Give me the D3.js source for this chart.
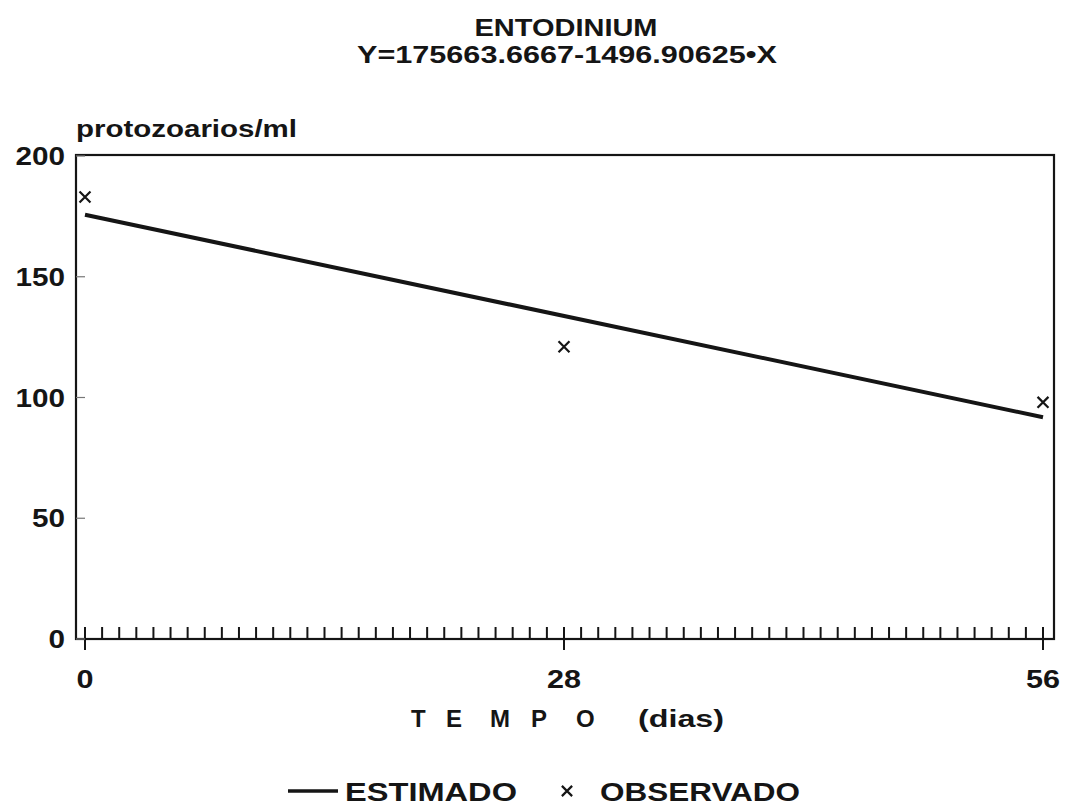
<!DOCTYPE html>
<html>
<head>
<meta charset="utf-8">
<script src="https://cdn.jsdelivr.net/npm/d3@7"></script>
<style>
  html, body { margin: 0; padding: 0; background: #fff; }
  svg text { font-family: "Liberation Sans", Arial, sans-serif; font-weight: bold; fill: #151515; }
</style>
</head>
<body>
<div id="chart"></div>
<script>
// data
const title = 'ENTODINIUM';
const equation = 'Y=175663.6667-1496.90625\u2022X';
const xTicks = [0, 28, 56];
const yTicks = [0, 50, 100, 150, 200];
const minorTicks = d3.range(0, 57);          // one tick per day
const estimadoX = [0, 56];
const estimadoY = [175.66, 91.84];
const observadoX = [0, 28, 56];
const observadoY = [183, 121, 98];

const width = 1068, height = 808;
const margins = { top: 155, right: 14, bottom: 169, left: 76 };
const ink = '#151515';

const svg = d3.select('#chart').append('svg')
  .attr('width', width)
  .attr('height', height);

const plotW = width - margins.left - margins.right;
const plotH = height - margins.top - margins.bottom;

const x = d3.scaleLinear().domain([0, 56]).range([9, plotW - 11]);
const y = d3.scaleLinear().domain([0, 200]).range([plotH, 1]);

// the scanned lettering is much wider than Liberation, so stretch it
function label(sel, str, px, py, size, len, anchor) {
  return sel.append('text')
    .attr('x', px).attr('y', py)
    .attr('font-size', size)
    .attr('text-anchor', anchor || 'start')
    .attr('textLength', len)
    .attr('lengthAdjust', 'spacingAndGlyphs')
    .text(str);
}

const g = svg.append('g')
  .attr('transform', `translate(${margins.left},${margins.top})`);

// frame
g.append('rect')
  .attr('width', plotW)
  .attr('height', plotH)
  .attr('fill', 'none')
  .attr('stroke', ink)
  .attr('stroke-width', 2.2);

// daily ticks standing on the base line
g.append('g')
  .selectAll('line')
  .data(minorTicks)
  .enter()
  .append('line')
  .attr('x1', d => x(d))
  .attr('x2', d => x(d))
  .attr('y1', plotH)
  .attr('y2', plotH - 12)
  .attr('stroke', ink)
  .attr('stroke-width', 2);

// x axis labels and the little outward marks
const xAxis = g.append('g').attr('transform', `translate(0,${plotH})`);
xAxis.selectAll('line')
  .data(xTicks)
  .enter()
  .append('line')
  .attr('x1', d => x(d))
  .attr('x2', d => x(d))
  .attr('y1', 0)
  .attr('y2', 11)
  .attr('stroke', ink)
  .attr('stroke-width', 2);
xAxis.selectAll('text')
  .data(xTicks)
  .enter()
  .append('text')
  .attr('x', d => x(d))
  .attr('y', 49)
  .attr('text-anchor', 'middle')
  .attr('font-size', 25)
  .attr('textLength', d => String(d).length * 17)
  .attr('lengthAdjust', 'spacingAndGlyphs')
  .text(d => d);

// y axis: faint inward ticks and labels
const yAxis = g.append('g');
yAxis.selectAll('line')
  .data(yTicks)
  .enter()
  .append('line')
  .attr('x1', 0)
  .attr('x2', 9)
  .attr('y1', d => y(d))
  .attr('y2', d => y(d))
  .attr('stroke', '#777')
  .attr('stroke-width', 1.2);
yAxis.selectAll('text')
  .data(yTicks)
  .enter()
  .append('text')
  .attr('x', -11)
  .attr('y', d => y(d) + 9)
  .attr('text-anchor', 'end')
  .attr('font-size', 25)
  .attr('textLength', d => String(d).length * 16.5)
  .attr('lengthAdjust', 'spacingAndGlyphs')
  .text(d => d);

// regression line
const line = d3.line()
  .x(d => x(d[0]))
  .y(d => y(d[1]));

g.append('path')
  .datum(d3.zip(estimadoX, estimadoY))
  .attr('d', line)
  .attr('fill', 'none')
  .attr('stroke', ink)
  .attr('stroke-width', 4);

// observed points
g.append('g')
  .selectAll('path')
  .data(d3.zip(observadoX, observadoY))
  .enter()
  .append('path')
  .attr('d', d3.symbol().type(d3.symbolX).size(80))
  .attr('transform', d => `translate(${x(d[0])},${y(d[1])})`)
  .attr('fill', 'none')
  .attr('stroke', ink)
  .attr('stroke-width', 2.2);

// titles
label(svg, title, 566, 36, 23, 183, 'middle');
label(svg, equation, 567, 63, 23, 420, 'middle');
label(svg, 'protozoarios/ml', 76, 137, 23, 221);

// x axis title, letters spread out
const tempoLetters = ['T', 'E', 'M', 'P', 'O'];
const tempoX = [411, 446, 490, 531, 576];
const tempo = svg.append('g').attr('transform', 'translate(0,727)');
tempo.selectAll('text')
  .data(tempoLetters)
  .enter()
  .append('text')
  .attr('x', (d, i) => tempoX[i])
  .attr('y', 0)
  .attr('font-size', 24)
  .text(d => d);
label(tempo, '(dias)', 638, 0, 24, 86);

// legend
const legend = svg.append('g').attr('transform', 'translate(0,801)');
legend.append('line')
  .attr('x1', 288).attr('x2', 338)
  .attr('y1', -10).attr('y2', -10)
  .attr('stroke', ink)
  .attr('stroke-width', 3.5);
label(legend, 'ESTIMADO', 345, 0, 26, 172);
legend.append('path')
  .attr('d', d3.symbol().type(d3.symbolX).size(70))
  .attr('transform', 'translate(567,-10)')
  .attr('fill', 'none')
  .attr('stroke', ink)
  .attr('stroke-width', 2.2);
label(legend, 'OBSERVADO', 600, 0, 26, 200);
</script>
</body>
</html>
